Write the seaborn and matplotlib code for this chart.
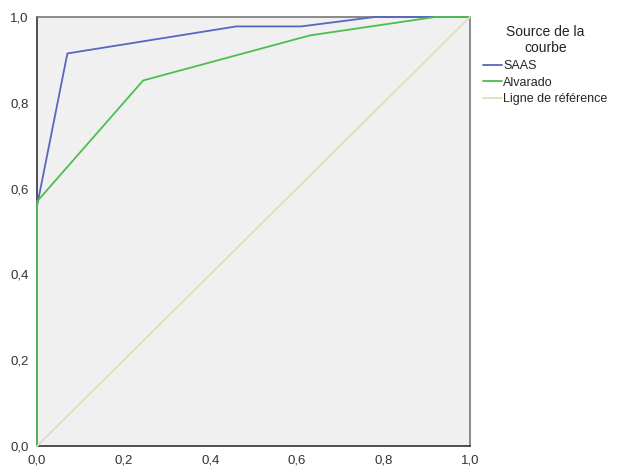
import pandas as pd
import matplotlib
matplotlib.use("Agg")
import matplotlib.pyplot as plt
import seaborn as sns

# ROC curve points
saas_fpr = [0.0, 0.0, 0.07, 0.46, 0.61, 0.78, 1.0]
saas_tpr = [0.0, 0.56, 0.915, 0.978, 0.978, 1.0, 1.0]
alvarado_fpr = [0.0, 0.0, 0.245, 0.63, 0.92, 1.0]
alvarado_tpr = [0.0, 0.57, 0.852, 0.957, 1.0, 1.0]
ref_fpr = [0.0, 1.0]
ref_tpr = [0.0, 1.0]

sources = ["SAAS", "Alvarado", "Ligne de référence"]
colors = ["#5766c0", "#4cbf4c", "#e3dcb8"]
ticks = [0.0, 0.2, 0.4, 0.6, 0.8, 1.0]
tick_labels = ["0,0", "0,2", "0,4", "0,6", "0,8", "1,0"]

df = pd.concat([
    pd.DataFrame({"fpr": saas_fpr, "tpr": saas_tpr, "source": sources[0]}),
    pd.DataFrame({"fpr": alvarado_fpr, "tpr": alvarado_tpr, "source": sources[1]}),
    pd.DataFrame({"fpr": ref_fpr, "tpr": ref_tpr, "source": sources[2]}),
], ignore_index=True)

sns.set_style("white")
plt.rcParams["font.family"] = ["Liberation Sans", "DejaVu Sans"]

fig = plt.figure(figsize=(6.18, 4.69), dpi=100)
ax = fig.add_axes([0.06, 0.049, 0.7005, 0.9148])
ax.set_facecolor("#f0f0f0")

sns.lineplot(data=df, x="fpr", y="tpr", hue="source", hue_order=sources,
             palette=dict(zip(sources, colors)), sort=False, estimator=None,
             linewidth=1.3, ax=ax)
# the first segment runs along the y axis; draw it over the spine
for line in ax.lines:
    line.set_clip_on(False)
    line.set_zorder(3)

ax.set_xlim(0, 1)
ax.set_ylim(0, 1)
ax.set_xticks(ticks)
ax.set_xticklabels(tick_labels)
ax.set_yticks(ticks)
ax.set_yticklabels(tick_labels)
ax.set_xlabel("")
ax.set_ylabel("")
ax.tick_params(axis="both", direction="out", length=5, width=1, colors="#333333",
               labelsize=9.5, pad=1)
for side in ["left", "bottom"]:
    ax.spines[side].set_color("#333333")
    ax.spines[side].set_linewidth(1.2)
for side in ["top", "right"]:
    ax.spines[side].set_color("#777777")
    ax.spines[side].set_linewidth(1.2)

leg = ax.legend(title="Source de la\ncourbe", bbox_to_anchor=(1.018, 0.993),
                loc="upper left", frameon=False, fontsize=9,
                title_fontsize=10, handlelength=1.5, handletextpad=0.15,
                labelspacing=0.38, borderaxespad=0)
leg._legend_box.align = "center"
leg.get_title().set_multialignment("center")
leg.get_title().set_color("#222222")

fig.savefig("out.png", dpi=100)
